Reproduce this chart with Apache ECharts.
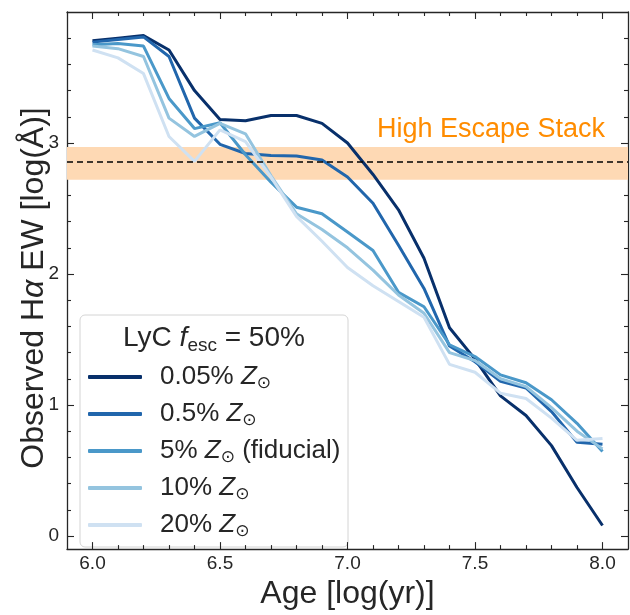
<!DOCTYPE html>
<html lang="en">
<head>
  <meta charset="UTF-8">
  <title>Halpha EW vs age</title>
  <script src="https://cdn.jsdelivr.net/npm/echarts@6/dist/echarts.min.js"></script>
</head>
<body style="margin:0">
  <div id="main" style="width: 630px; height: 615px;"></div>
  <script>
    // stellar population age, log(yr)
    const ages = [6.0, 6.1, 6.2, 6.3, 6.4, 6.5, 6.6, 6.7, 6.8, 6.9, 7.0,
                  7.1, 7.2, 7.3, 7.4, 7.5, 7.6, 7.7, 7.8, 7.9, 8.0]

    // observed Halpha EW, log(A), one list per metallicity
    const ew005 = [3.78, 3.80, 3.82, 3.71, 3.40, 3.18, 3.17, 3.21, 3.21, 3.15, 3.00,
                   2.76, 2.49, 2.12, 1.59, 1.35, 1.07, 0.92, 0.69, 0.37, 0.08]
    const ew05 = [3.77, 3.79, 3.81, 3.66, 3.19, 2.99, 2.92, 2.905, 2.90, 2.87, 2.74,
                  2.54, 2.22, 1.89, 1.45, 1.33, 1.18, 1.13, 0.95, 0.715, 0.70]
    const ew5 = [3.75, 3.76, 3.74, 3.34, 3.11, 3.155, 2.91, 2.70, 2.51, 2.46, 2.32,
                 2.18, 1.86, 1.75, 1.46, 1.37, 1.23, 1.17, 1.04, 0.86, 0.645]
    const ew10 = [3.74, 3.72, 3.66, 3.19, 3.05, 3.15, 3.07, 2.75, 2.46, 2.34, 2.20,
                  2.03, 1.84, 1.70, 1.40, 1.34, 1.20, 1.14, 0.98, 0.80, 0.665]
    const ew20 = [3.71, 3.65, 3.53, 3.05, 2.86, 3.10, 3.01, 2.74, 2.44, 2.25, 2.05,
                  1.91, 1.79, 1.67, 1.31, 1.25, 1.09, 1.05, 0.90, 0.73, 0.745]

    const metals = ['0.05%', '0.5%', '5%', '10%', '20%']
    const colors = ['#08306b', '#2166ac', '#4a98c9', '#94c4df', '#cfe1f2']

    // high escape stack: band and median
    const stackLow = 2.72
    const stackHigh = 2.97
    const stackMid = 2.86

    const xMajor = [6.0, 6.5, 7.0, 7.5, 8.0]
    const xMinor = [6.1, 6.2, 6.3, 6.4, 6.6, 6.7, 6.8, 6.9, 7.1, 7.2, 7.3, 7.4, 7.6, 7.7, 7.8, 7.9]
    const yMajor = [0, 1, 2, 3]
    const yMinor = [0.2, 0.4, 0.6, 0.8, 1.2, 1.4, 1.6, 1.8, 2.2, 2.4, 2.6, 2.8, 3.2, 3.4, 3.6, 3.8]

    const font = 'Liberation Sans, Arial, sans-serif'
    const ink = '#262626'
    const xr = { min: 5.9, max: 8.1 }
    const yr = { min: -0.1, max: 4.0 }

    const chart = echarts.init(document.getElementById('main'))

    // tick-only axes for the box frame (ticks point inwards on every side)
    function tickAxis(range, pos, values, len, showLine) {
      return {
        type: 'value', ...range, position: pos,
        axisLine: { show: showLine, onZero: false, lineStyle: { color: ink, width: 1.3 } },
        axisTick: { show: true, inside: true, length: len, customValues: values, lineStyle: { color: ink, width: 1.1 } },
        axisLabel: { show: false },
        splitLine: { show: false }
      }
    }

    const curves = [ew005, ew05, ew5, ew10, ew20]
    const series = curves.map((ew, i) => ({
      name: metals[i],
      type: 'line',
      xAxisIndex: 0,
      yAxisIndex: 0,
      symbol: 'none',
      data: ages.map((a, j) => [a, ew[j]]),
      lineStyle: { width: 3, color: colors[i] },
      itemStyle: { color: colors[i] },
      z: 3
    }))
    series.unshift({
      name: 'stack',
      type: 'line',
      data: [],
      z: 1,
      markArea: {
        silent: true,
        itemStyle: { color: '#fed9b4' },
        data: [[{ yAxis: stackLow }, { yAxis: stackHigh }]]
      },
      markLine: {
        silent: true,
        symbol: 'none',
        label: { show: false },
        lineStyle: { color: '#000', type: [6, 4], width: 1.5 },
        data: [{ yAxis: stackMid }]
      }
    })

    const option = {
      animation: false,
      grid: { left: 67, right: 2, top: 12, bottom: 56 },
      xAxis: [
        {
          type: 'value', ...xr, position: 'bottom',
          name: 'Age [log(yr)]', nameLocation: 'middle', nameGap: 22,
          nameTextStyle: { fontSize: 32, color: ink, fontFamily: font, verticalAlign: 'top' },
          axisLine: { onZero: false, lineStyle: { color: ink, width: 1.3 } },
          axisTick: { inside: true, length: 7, customValues: xMajor, lineStyle: { color: ink, width: 1.1 } },
          axisLabel: { customValues: xMajor, margin: 5, fontSize: 19, color: ink, fontFamily: font,
                       formatter: v => v.toFixed(1) },
          splitLine: { show: false }
        },
        tickAxis(xr, 'bottom', xMinor, 4, false),
        tickAxis(xr, 'top', xMajor, 7, true),
        tickAxis(xr, 'top', xMinor, 4, false)
      ],
      yAxis: [
        {
          type: 'value', ...yr, position: 'left',
          axisLine: { onZero: false, lineStyle: { color: ink, width: 1.3 } },
          axisTick: { inside: true, length: 7, customValues: yMajor, lineStyle: { color: ink, width: 1.1 } },
          axisLabel: { customValues: yMajor, margin: 8, fontSize: 19, color: ink, fontFamily: font },
          splitLine: { show: false }
        },
        tickAxis(yr, 'left', yMinor, 4, false),
        tickAxis(yr, 'right', yMajor, 7, true),
        tickAxis(yr, 'right', yMinor, 4, false)
      ],
      legend: {
        data: metals,
        orient: 'vertical',
        left: 88,
        top: 362,
        padding: 0,
        itemWidth: 54,
        itemHeight: 4,
        itemGap: 7,
        icon: 'roundRect',
        formatter: n => n + ' {z|Z}{s|⊙}' + (n === '5%' ? ' (fiducial)' : ''),
        textStyle: {
          fontSize: 26, color: ink, fontFamily: font, lineHeight: 30, padding: [0, 0, 0, 13],
          rich: {
            z: { fontSize: 26, fontStyle: 'italic', color: ink, fontFamily: font, lineHeight: 30 },
            s: { fontSize: 17, color: ink, fontFamily: 'DejaVu Sans', verticalAlign: 'bottom', lineHeight: 22 }
          }
        }
      },
      graphic: [
        {
          type: 'rect', z: 0,
          shape: { x: 80, y: 315, width: 268, height: 232, r: 5 },
          style: { fill: 'rgba(255,255,255,0.85)', stroke: '#d4d4d4', lineWidth: 1 }
        },
        {
          type: 'text', z: 10, x: 214, y: 338,
          style: {
            text: 'LyC {i|f}{sub|esc} = 50%',
            align: 'center', verticalAlign: 'middle',
            fill: ink, font: '28px ' + font,
            rich: {
              i: { fontSize: 28, fontStyle: 'italic', fill: ink, fontFamily: font, lineHeight: 34 },
              sub: { fontSize: 19, fill: ink, fontFamily: font, verticalAlign: 'bottom', lineHeight: 25 }
            }
          }
        },
        {
          type: 'text', z: 10, x: 491, y: 130,
          style: {
            text: 'High Escape Stack',
            align: 'center', verticalAlign: 'middle',
            fill: '#ff8c00', font: '27px ' + font
          }
        },
        {
          // y-axis title, centred on the plot height
          type: 'text', z: 10, x: 34, y: 288, rotation: Math.PI / 2,
          style: {
            text: 'Observed H{a|α} EW [log(Å)]',
            align: 'center', verticalAlign: 'middle',
            fill: ink, font: '32px ' + font,
            rich: {
              a: { fontSize: 32, fontStyle: 'italic', fill: ink, fontFamily: font }
            }
          }
        }
      ],
      series
    }

    chart.setOption(option)
  </script>
</body>
</html>
